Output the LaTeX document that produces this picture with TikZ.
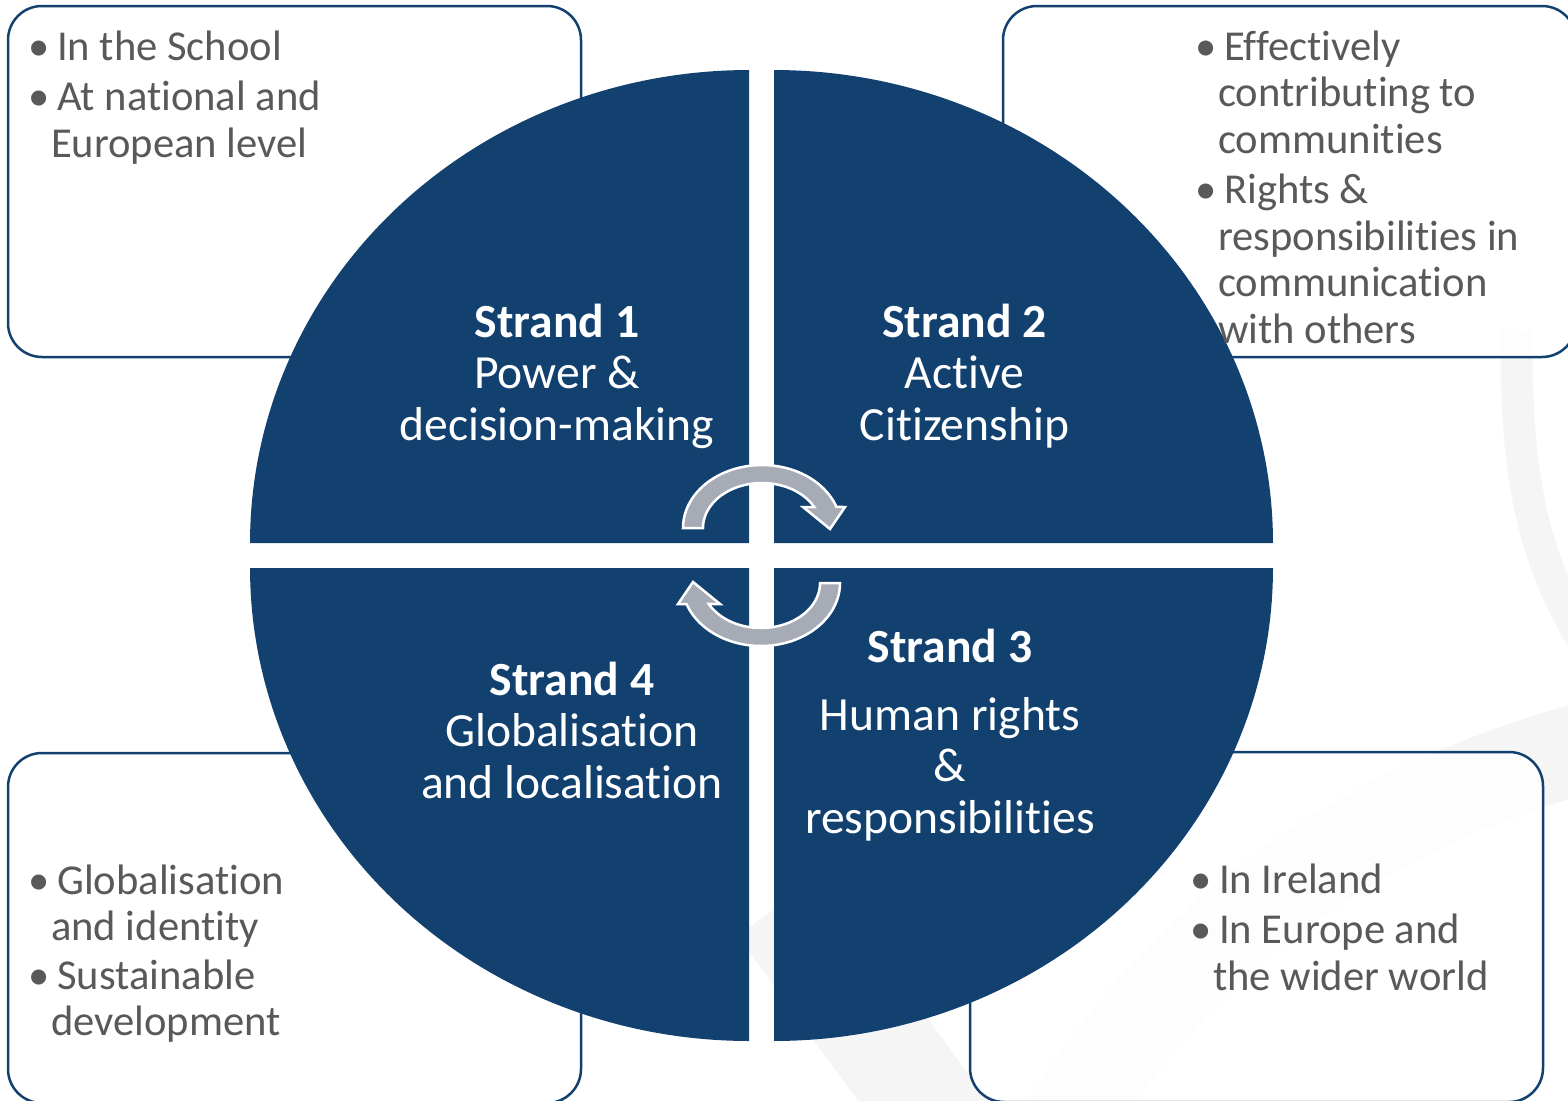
\documentclass[tikz,border=0pt]{standalone}
\usepackage{fontspec}
\setmainfont{Carlito}[Ligatures={NoCommon,NoRequired,NoContextual}]
\definecolor{navy}{HTML}{124170}
\definecolor{txtgray}{HTML}{595959}
\definecolor{arrowgray}{HTML}{A6ABB6}
\definecolor{wm}{HTML}{F5F5F5}
\tikzset{
  quad/.style={fill=navy},
  infobox/.style={draw=navy, line width=2.5, fill=white, fill opacity=0.85, rounded corners=34},
  boxtext/.style={anchor=north west, inner sep=0, align=left, text=txtgray, font=\fontsize{42.6}{46.5}\selectfont},
  strandtext/.style={anchor=north, inner sep=0, align=center, text=white, font=\fontsize{47.6}{51.5}\selectfont},
  cyc/.style={fill=arrowgray, draw=white, line width=2.5, line join=miter},
  wmark/.style={draw=wm, line cap=butt},
}
\newcommand{\bul}[1]{\makebox[29pt][l]{•}#1}
\newcommand{\cont}[1]{\hspace{23pt}#1}
\begin{document}
\begin{tikzpicture}[x=1pt,y=-1pt]
\path[use as bounding box] (0,0) rectangle (1568,1100);
\clip (0,0) rectangle (1568,1100);
% faint background watermark
\draw[wmark, line width=32] (1517,330) .. controls (1514,480) and (1535,575) .. (1600,665);
\draw[wmark, line width=105] (780,905) -- (1010,1220);
\draw[wmark, line width=90] (1050,1150) .. controls (1200,900) and (1400,790) .. (1650,730);
% info boxes
\path[infobox] (8,6) rectangle (581,357);
\path[infobox] (1003,6) rectangle (1576,357);
\path[infobox] (8,753) rectangle (581,1103);
\path[infobox] (970,752) rectangle (1543,1102);
% quadrants
\fill[quad] (749,543) -- plot[domain=180:270,samples=90] ({749+499*cos(\x)},{543+473*sin(\x)}) -- cycle;
\fill[quad] (774,543) -- plot[domain=270:360,samples=90] ({774+499*cos(\x)},{543+473*sin(\x)}) -- cycle;
\fill[quad] (774,568) -- plot[domain=0:90,samples=90] ({774+499*cos(\x)},{568+473*sin(\x)}) -- cycle;
\fill[quad] (749,568) -- plot[domain=90:180,samples=90] ({749+499*cos(\x)},{568+473*sin(\x)}) -- cycle;
% cycle arrows
\path[cyc] plot[domain=180:340.5,samples=60] ({762+79*cos(\x)},{528+63*sin(\x)}) -- (845,507) -- (830,529) -- (803,507) -- plot[domain=332.2:180,samples=60] ({762+59*cos(\x)},{528+45*sin(\x)}) -- cycle;
\path[cyc, rotate around={180:(761.5,555.5)}] plot[domain=180:340.5,samples=60] ({762+79*cos(\x)},{528+63*sin(\x)}) -- (845,507) -- (830,529) -- (803,507) -- plot[domain=332.2:180,samples=60] ({762+59*cos(\x)},{528+45*sin(\x)}) -- cycle;
% strand labels
\node[strandtext] (s1) at (557,300.95) {\strut\textbf{Strand 1}\\Power \&\\decision-making};
\node[strandtext] (s2) at (964.5,300.95) {\strut\textbf{Strand 2}\\Active\\Citizenship};
\node[strandtext] (s3) at (950,625.95) {\strut\textbf{Strand 3}\\[16.5pt]Human rights\\\&\\responsibilities};
\node[strandtext] (s4) at (572,658.95) {\strut\textbf{Strand 4}\\Globalisation\\and localisation};
% box texts
\node[boxtext] (t1) at (28,27.45) {\strut\bul{In the School}\\[4pt]\strut\bul{At national and}\\\strut\cont{European level}};
\node[boxtext] (t2) at (1195,27.45) {\strut\bul{Effectively}\\\strut\cont{contributing to}\\\strut\cont{communities}\\[4pt]\strut\bul{Rights \&}\\\strut\cont{responsibilities in}\\\strut\cont{communication}\\\strut\cont{with others}};
\node[boxtext] (t3) at (28,861.45) {\strut\bul{Globalisation}\\\strut\cont{and identity}\\[2pt]\strut\bul{Sustainable}\\\strut\cont{development}};
\node[boxtext] (t4) at (1190,860.45) {\strut\bul{In Ireland}\\[4pt]\strut\bul{In Europe and}\\\strut\cont{the wider world}};
\end{tikzpicture}
\end{document}
